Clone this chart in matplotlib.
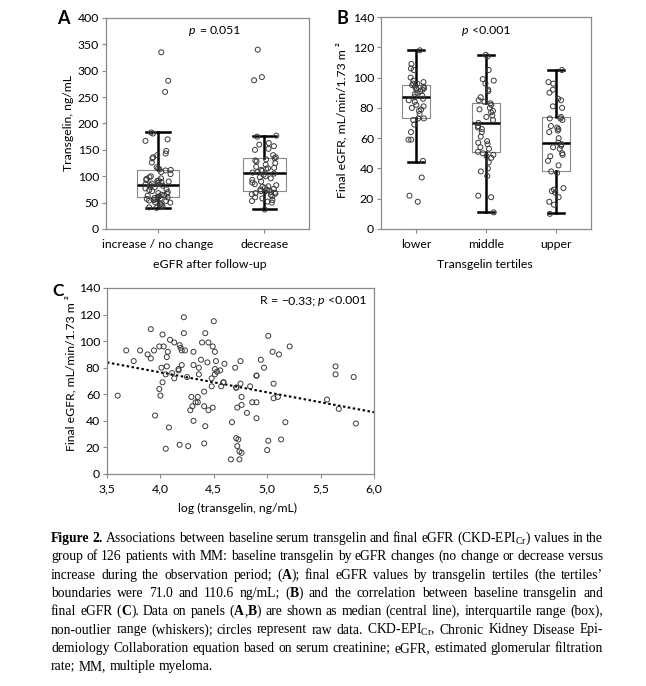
import numpy as np
import matplotlib
matplotlib.use("Agg")
import matplotlib.pyplot as plt
import matplotlib.transforms as mtransforms

plt.rcParams['font.family'] = ['Lato', 'DejaVu Sans']
plt.rcParams['mathtext.fontset'] = 'custom'
plt.rcParams['mathtext.rm'] = 'Liberation Serif'
plt.rcParams['mathtext.it'] = 'Liberation Serif:italic'
plt.rcParams['mathtext.bf'] = 'Liberation Serif:bold'

# --- panel A: transgelin by eGFR change ---
groups_a = ["increase / no change", "decrease"]
a_med = [84, 107]
a_q1 = [61, 72]
a_q3 = [112, 135]
a_lo = [40, 37]
a_hi = [183, 177]
a_pts_increase = [335, 281, 260, 183, 181, 170, 167, 148, 143, 140, 136, 134, 126,
                  117, 115, 113, 112, 111, 108, 104, 100, 98, 96, 95, 93, 92, 91, 90,
                  89, 88, 87, 86, 85, 83, 82, 80, 79, 77, 75, 74, 72, 70, 68, 67, 65,
                  64, 63, 62, 61, 60, 59, 58, 57, 56, 55, 54, 53, 51, 50, 48, 47, 45,
                  43, 41, 40]
a_pts_decrease = [340, 288, 282, 177, 175, 163, 160, 157, 152, 150, 140, 136, 134,
                  132, 130, 128, 125, 122, 118, 116, 115, 114, 112, 110, 108, 107, 105,
                  103, 100, 98, 96, 93, 90, 88, 85, 83, 81, 80, 78, 76, 75, 74, 73, 72,
                  71, 70, 69, 68, 67, 66, 65, 62, 60, 58, 55, 53, 52, 50, 37]

# --- panel B: final eGFR by transgelin tertiles ---
groups_b = ["lower", "middle", "upper"]
b_med = [87.5, 70, 57]
b_q1 = [73, 51, 38]
b_q3 = [95, 83, 74]
b_lo = [44.5, 11, 10.5]
b_hi = [118, 115, 105]
b_pts_lower = [118, 109, 106, 105, 100, 98, 97, 96, 96, 95, 94, 94, 93, 93, 92, 92,
               91, 90, 89, 88, 87, 86, 85, 84, 82, 81, 80, 79, 78, 76, 73, 73, 72, 69,
               64, 59, 59, 45, 34, 22, 18]
b_pts_middle = [115, 114, 105, 99, 98, 96, 92, 91, 87, 85, 84, 83, 82, 80, 79, 78, 77,
                75, 74, 72, 70, 68, 67, 66, 64, 61, 58, 57, 56, 54, 53, 51, 50, 49, 48,
                47, 44, 40, 38, 35, 22, 21, 11]
b_pts_upper = [105, 97, 96, 92, 90, 86, 85, 81, 80, 74, 73, 73, 72, 68, 67, 66, 65,
               64, 60, 57, 56, 55, 54, 53, 50, 49, 48, 45, 42, 38, 37, 27, 26, 25, 24,
               21, 18, 16, 10]

# --- panel C: log transgelin vs final eGFR ---
c_x = [3.60, 3.68, 3.75, 3.81, 3.88, 3.91, 3.91, 3.94, 3.95, 3.99, 3.99, 4.00, 4.01,
       4.02, 4.02, 4.03, 4.05, 4.05, 4.06, 4.06, 4.07, 4.08, 4.09, 4.11, 4.13, 4.13,
       4.17, 4.18, 4.18, 4.19, 4.20, 4.20, 4.22, 4.22, 4.23, 4.25, 4.26, 4.28, 4.29,
       4.30, 4.31, 4.31, 4.31, 4.33, 4.35, 4.35, 4.36, 4.36, 4.38, 4.39, 4.41, 4.41,
       4.42, 4.41, 4.42, 4.44, 4.45, 4.45, 4.48, 4.48, 4.49, 4.49, 4.50, 4.51, 4.51,
       4.51, 4.52, 4.53, 4.56, 4.57, 4.59, 4.60, 4.59, 4.66, 4.67, 4.70, 4.71, 4.71,
       4.71, 4.72, 4.72, 4.73, 4.74, 4.74, 4.75, 4.75, 4.76, 4.76, 4.76, 4.81, 4.84,
       4.86, 4.90, 4.90, 4.90, 4.90, 4.94, 4.97, 5.00, 5.01, 5.01, 5.05, 5.06, 5.06,
       5.10, 5.11, 5.13, 5.17, 5.21, 5.56, 5.64, 5.64, 5.67, 5.81, 5.83, 4.17]
c_y = [59, 93, 85, 93, 90, 109, 87, 93, 44, 96, 64, 59, 80,
       69, 105, 96, 75, 19, 88, 81, 92, 35, 101, 76, 72, 99,
       79, 22, 97, 95, 82, 93, 118, 106, 93, 73, 21, 48, 58,
       51, 92, 82, 40, 54, 58, 54, 75, 80, 86, 99, 62, 23,
       106, 51, 36, 84, 48, 99, 72, 66, 96, 50, 115, 75, 92,
       79, 85, 77, 78, 66, 69, 83, 69, 11, 39, 80, 65, 65,
       27, 50, 21, 26, 17, 11, 85, 68, 58, 52, 16, 46, 66,
       54, 74, 74, 54, 42, 86, 80, 18, 25, 104, 92, 68, 57,
       58, 90, 26, 39, 96, 56, 81, 75, 49, 73, 38, 78]
c_intercept = 136.5
c_slope = -15.0

caption = [
    "*Figure 2.* Associations between baseline serum transgelin and final eGFR (CKD-EPI$_{\\mathrm{Cr}}$) values in the",
    "group of 126 patients with MM: baseline transgelin by eGFR changes (no change or decrease versus",
    "increase during the observation period; (*A*); final eGFR values by transgelin tertiles (the tertiles\u2019",
    "boundaries were 71.0 and 110.6 ng/mL; (*B*) and the correlation between baseline transgelin and",
    "final eGFR (*C*). Data on panels (*A*,*B*) are shown as median (central line), interquartile range (box),",
    "non-outlier range (whiskers); circles represent raw data. CKD-EPI$_{\\mathrm{Cr}}$, Chronic Kidney Disease Epi-",
    "demiology Collaboration equation based on serum creatinine; eGFR, estimated glomerular filtration",
    "rate; MM, multiple myeloma.",
]

W, H = 646, 686
fig = plt.figure(figsize=(W / 100, H / 100), dpi=100)
renderer = fig.canvas.get_renderer()
px = mtransforms.IdentityTransform()

frame = '#8a8a8a'
ink = '#3a3a3a'
fs = 8.8
serif = ['Liberation Serif', 'DejaVu Serif']
sans = ['Lato', 'DejaVu Sans']


def pix_axes(l, t, r, b):
    return fig.add_axes([l / W, 1 - b / H, (r - l) / W, (b - t) / H])


def parse(line):
    # '*' toggles bold, '~' toggles italic
    words, bold, ital = [], False, False
    for w in line.split(' '):
        segs, buf = [], ''
        for ch in w:
            if ch in '*~':
                if buf:
                    segs.append((buf, bold, ital))
                buf = ''
                if ch == '*':
                    bold = not bold
                else:
                    ital = not ital
            else:
                buf += ch
        if buf:
            segs.append((buf, bold, ital))
        words.append(segs)
    return words


def make_words(words, y, size, family):
    items = []
    for segs in words:
        ts = []
        for s, b, i in segs:
            t = fig.text(0, H - y, s, transform=px, va='baseline', ha='left',
                         fontsize=size, family=family,
                         fontweight='bold' if b else 'normal',
                         fontstyle='italic' if i else 'normal')
            ts.append((t, t.get_window_extent(renderer).width))
        items.append(ts)
    return items


def natural_width(line, size, family):
    items = make_words(parse(line), 0, size, family)
    total = sum(w for ts in items for _, w in ts)
    for ts in items:
        for t, _ in ts:
            t.remove()
    return total, len(items)


def put_line(x0, y, line, size, family, right=None, center=None):
    items = make_words(parse(line), y, size, family)
    widths = [sum(w for _, w in ts) for ts in items]
    gap = size * 100 / 72 * 0.26
    if right is not None and len(items) > 1:
        gap = (right - x0 - sum(widths)) / (len(items) - 1)
    if center is not None:
        x0 = center - (sum(widths) + gap * (len(items) - 1)) / 2
    x = x0
    for ts in items:
        for t, w in ts:
            t.set_x(x)
            x += w
        x += gap


def style_axes(ax):
    for sp in ax.spines.values():
        sp.set_color(frame)
        sp.set_linewidth(0.9)
    ax.tick_params(direction='out', length=3, width=0.8, color=frame,
                   labelsize=fs, pad=2, labelcolor='black')
    ax.tick_params(axis='x', pad=4)


def boxes(ax, med, q1, q3, lo, hi, pts_list, rng):
    stats = [dict(med=m, q1=a, q3=b, whislo=l, whishi=h, fliers=[])
             for m, a, b, l, h in zip(med, q1, q3, lo, hi)]
    pos = np.arange(1, len(stats) + 1)
    ax.bxp(stats, positions=pos, widths=0.4, showfliers=False,
           capwidths=0.22,
           boxprops=dict(color=frame, linewidth=0.8),
           medianprops=dict(color='black', linewidth=1.8),
           whiskerprops=dict(color='black', linewidth=1.8),
           capprops=dict(color='black', linewidth=1.8))
    for p, pts in zip(pos, pts_list):
        xs = p + rng.uniform(-0.12, 0.12, len(pts))
        ax.scatter(xs, pts, s=13, facecolors='none', edgecolors=ink,
                   linewidths=0.7, zorder=3)
    return pos


rng = np.random.default_rng(7)

# panel A
axA = pix_axes(106, 18, 309, 229)
pos = boxes(axA, a_med, a_q1, a_q3, a_lo, a_hi, [a_pts_increase, a_pts_decrease], rng)
axA.set_xlim(0.51, 2.42)
axA.set_ylim(0, 400)
axA.set_yticks(np.arange(0, 401, 50))
axA.set_xticks(pos)
axA.set_xticklabels(groups_a)
style_axes(axA)

# panel B
axB = pix_axes(381, 17, 591, 229)
pos = boxes(axB, b_med, b_q1, b_q3, b_lo, b_hi,
            [b_pts_lower, b_pts_middle, b_pts_upper], rng)
axB.set_xlim(0.5, 3.5)
axB.set_ylim(0, 140)
axB.set_yticks(np.arange(0, 141, 20))
axB.set_xticks(pos)
axB.set_xticklabels(groups_b)
style_axes(axB)

# panel C
axC = pix_axes(107, 288, 374, 474)
axC.scatter(c_x, c_y, s=13, facecolors='none', edgecolors=ink, linewidths=0.7, zorder=3)
axC.axline((0, c_intercept), slope=c_slope, color='black', linestyle=(0, (1.2, 1.2)),
           linewidth=1.5)
axC.set_xlim(3.5, 6.0)
axC.set_ylim(0, 140)
axC.set_yticks(np.arange(0, 141, 20))
axC.set_xticks(np.arange(3.5, 6.01, 0.5))
axC.set_xticklabels([f"{v:.1f}".replace('.', ',') for v in np.arange(3.5, 6.01, 0.5)])
style_axes(axC)

# panel letters
for s, x, y, size in [("A", 63, 19, 13), ("B", 342, 19, 13), ("C", 58, 291, 12.5)]:
    fig.text(x, H - y, s, transform=px, ha='center', va='center',
             fontsize=size, fontweight='bold')

# axis titles
fig.text(68, H - 123, "Transgelin, ng/mL", transform=px, rotation=90,
         ha='center', va='center', fontsize=fs)
fig.text(342, H - 120, "Final eGFR, mL/min/1.73 m \u00b2", transform=px, rotation=90,
         ha='center', va='center', fontsize=fs)
fig.text(70.5, H - 373, "Final eGFR, mL/min/1.73 m \u00b2", transform=px, rotation=90,
         ha='center', va='center', fontsize=fs)
fig.text(210, H - 265, "eGFR after follow-up", transform=px,
         ha='center', va='center', fontsize=fs)
fig.text(485, H - 265, "Transgelin tertiles", transform=px,
         ha='center', va='center', fontsize=fs)
fig.text(238, H - 508, "log (transgelin, ng/mL)", transform=px,
         ha='center', va='center', fontsize=fs)

# statistics
put_line(0, 34, "~p~ = 0.051", fs, sans, center=215)
put_line(0, 34, "~p~ <0.001", fs, sans, center=486)
put_line(0, 304, "R = \u22120.33; ~p~ <0.001", fs, sans, center=313)

# caption: one common size, as large as the justified lines allow
cap_left, cap_right = 51, 603
base = 9.0
cap_size = 9.9
for line in caption[:-1]:
    wsum, n = natural_width(line, base, serif)
    fit = base * (cap_right - cap_left) / (wsum + (n - 1) * 0.24 * base * 100 / 72)
    cap_size = min(cap_size, fit)
for i, line in enumerate(caption):
    last = i == len(caption) - 1
    put_line(cap_left, 542 + 18.3 * i, line, cap_size, serif,
             right=None if last else cap_right)

fig.savefig("out.png", dpi=100)
